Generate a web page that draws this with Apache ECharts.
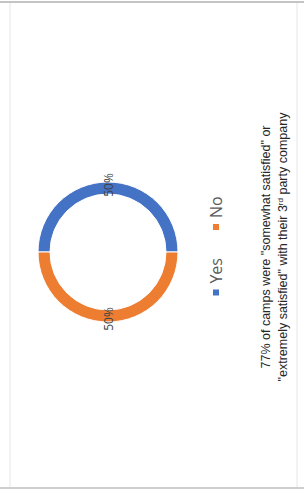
<!DOCTYPE html>
<html>
<head>
<meta charset="utf-8">
<script src="https://cdn.jsdelivr.net/npm/echarts@6/dist/echarts.min.js"></script>
<style>
    html, body { margin: 0; padding: 0; width: 304px; height: 494px; overflow: hidden; background: #fff; }
    /* the slide is turned a quarter anti-clockwise in the picture */
    .chart-1 {
        position: absolute; left: 0; top: 494px;
        width: 494px; height: 304px;
        transform-origin: 0 0;
        transform: rotate(-90deg);
    }
</style>
</head>
<body>
<div class="chart-1"></div>
<script>
var categories = ['Yes', 'No'];
var values = [50, 50];
var colors = ['#4472C4', '#ED7D31'];
var captionLine1 = '77% of camps were "somewhat satisfied" or';
var captionLine2 = ['"extremely satisfied" with their 3', 'rd', ' party company'];

var myChart1 = echarts.init(document.querySelector('.chart-1'), null, { renderer: 'svg' });
var option1 = {
    animation: false,
    color: colors,
    legend: {
        data: categories,
        left: 'center',
        top: 203,
        itemWidth: 8,
        itemHeight: 8,
        itemGap: 26,
        icon: 'rect',
        textStyle: { color: '#595959', fontSize: 16, fontFamily: 'Open Sans' }
    },
    graphic: [{
        type: 'rect',
        shape: { x: 6, y: 10, width: 486, height: 287 },
        style: { fill: 'none', stroke: '#e6e6e6', lineWidth: 1 }
    }, {
        type: 'line',
        shape: { x1: 492, y1: 0, x2: 492, y2: 304 },
        style: { stroke: '#c4c4c4', lineWidth: 2 }
    }, {
        type: 'line',
        shape: { x1: 6, y1: 0, x2: 6, y2: 304 },
        style: { stroke: '#cfcfcf', lineWidth: 2 }
    }, {
        type: 'text',
        left: 'center',
        top: 259,
        style: {
            text: captionLine1,
            fill: '#262626',
            font: '12.5px "Liberation Sans"'
        }
    }, {
        type: 'text',
        left: 'center',
        top: 276,
        style: {
            text: captionLine2[0] + '{sup|' + captionLine2[1] + '}' + captionLine2[2],
            fill: '#262626',
            font: '12.5px "Liberation Sans"',
            rich: {
                sup: { fontSize: 8, verticalAlign: 'top', padding: [0, 0, 5, 0], fill: '#262626' }
            }
        }
    }],
    series: [{
        name: 'Satisfied',
        type: 'pie',
        center: [242, 108],
        radius: [58, 70],
        startAngle: 90,
        clockwise: true,
        itemStyle: { borderColor: '#fff', borderWidth: 1 },
        label: {
            show: true,
            position: 'inside',
            formatter: '{d}%',
            color: '#404040',
            fontSize: 12,
            fontFamily: 'Open Sans'
        },
        labelLine: { show: false },
        data: categories.map(function (c, i) {
            return { name: c, value: values[i] };
        })
    }]
};
myChart1.setOption(option1);
</script>
</body>
</html>
